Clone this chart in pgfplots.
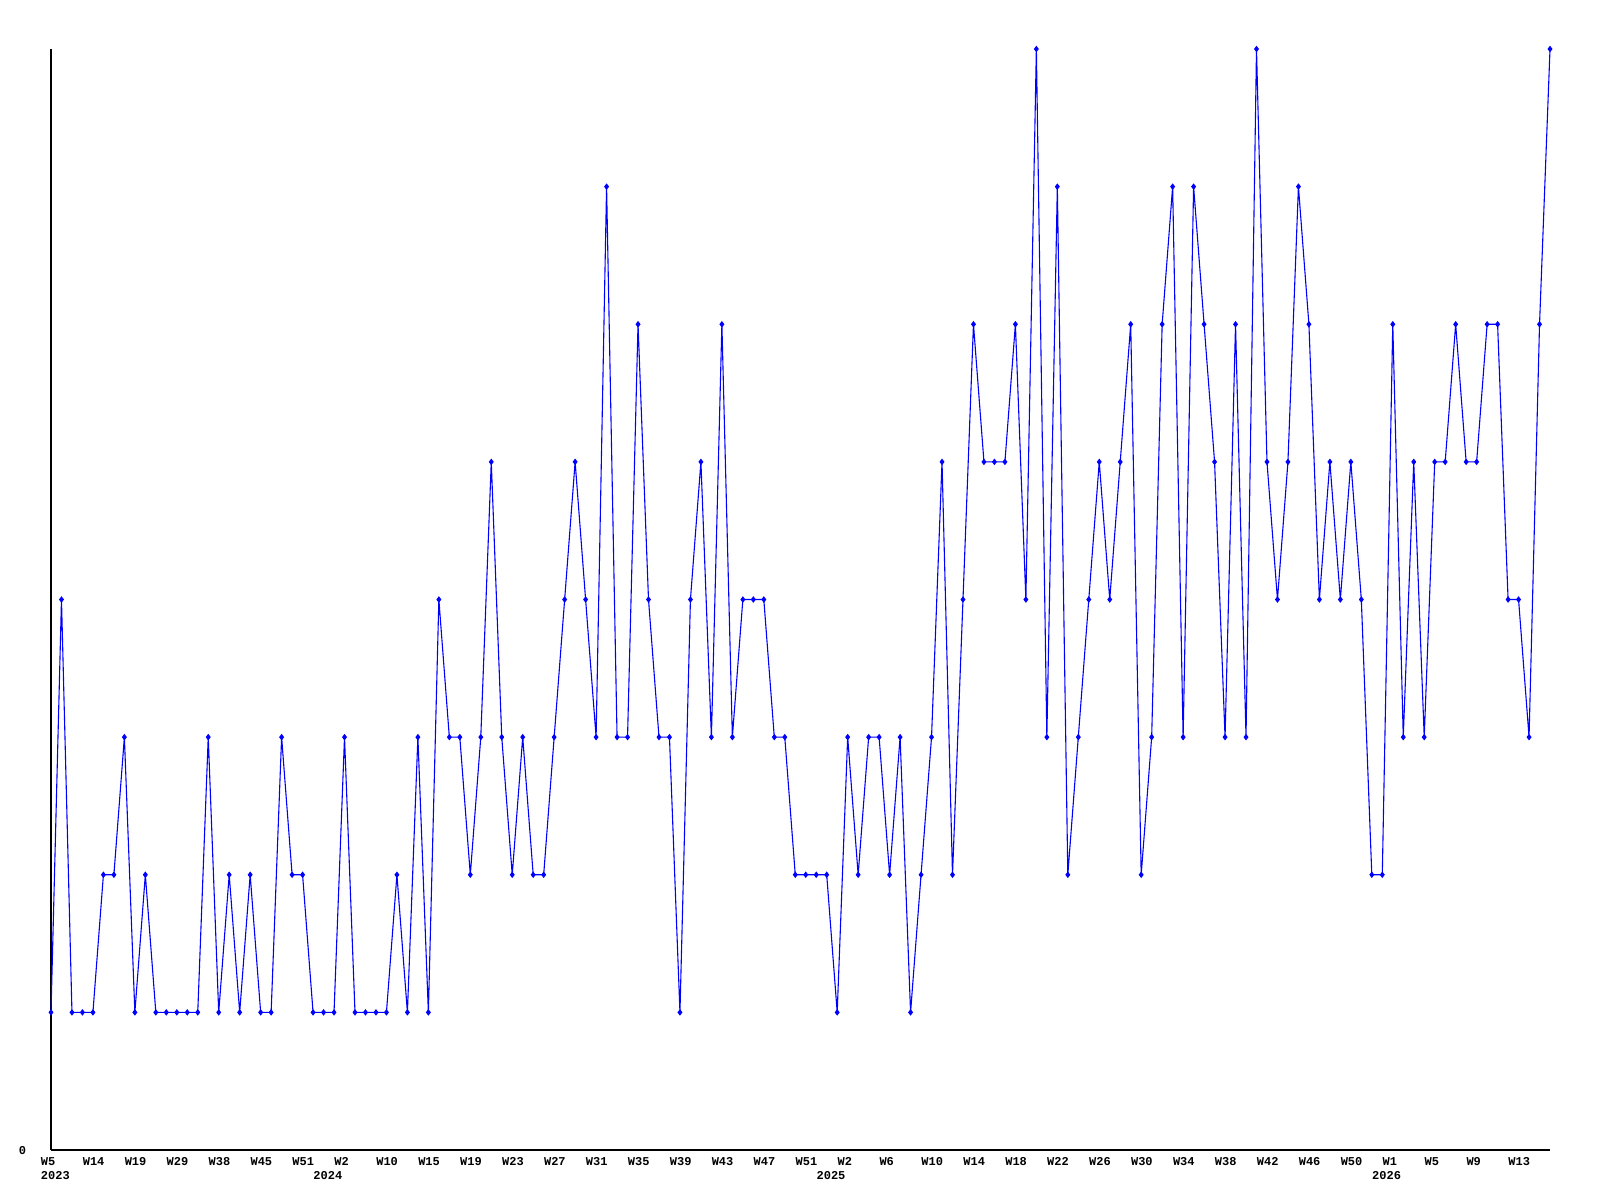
\documentclass[border=0pt]{standalone}
\usepackage{fontspec}
\setmainfont{Liberation Mono}
\usepackage{pgfplots}
\pgfplotsset{compat=1.18}
\usepackage{pgfplotstable}

% weekly counts, one row per week (index = row number)
\pgfplotstableread{
v
1
4
1
1
1
2
2
3
1
2
1
1
1
1
1
3
1
2
1
2
1
1
3
2
2
1
1
1
3
1
1
1
1
2
1
3
1
4
3
3
2
3
5
3
2
3
2
2
3
4
5
4
3
7
3
3
6
4
3
3
1
4
5
3
6
3
4
4
4
3
3
2
2
2
2
1
3
2
3
3
2
3
1
2
3
5
2
4
6
5
5
5
6
4
8
3
7
2
3
4
5
4
5
6
2
3
6
7
3
7
6
5
3
6
3
8
5
4
5
7
6
4
5
4
5
4
2
2
6
3
5
3
5
5
6
5
5
6
6
4
4
3
6
8
}\weekly

\definecolor{lineblue}{RGB}{0,0,255}
\tikzset{yearlabel/.style={anchor=north west, inner sep=0pt, xshift=-5.25pt, yshift=-10.7pt,
                           font=\fontsize{6}{7}\selectfont\bfseries}}

\begin{document}
\begin{tikzpicture}
  \begin{axis}[
    width=749.5pt, height=550.5pt,
    scale only axis,
    xmin=0, xmax=143,
    ymin=0, ymax=8,
    axis lines=left,
    axis line style={-, black, line width=0.6pt},
    major tick length=0pt,
    clip=false,
    font=\fontsize{6}{7}\selectfont\bfseries,
    ytick={0},
    yticklabels={0},
    yticklabel style={anchor=east, inner sep=0pt, xshift=-12.2pt, yshift=-0.5pt},
    xtick={0,4,...,140},
    xticklabels={W5,W14,W19,W29,W38,W45,W51,W2,W10,W15,W19,W23,W27,W31,W35,W39,W43,W47,W51,W2,W6,W10,W14,W18,W22,W26,W30,W34,W38,W42,W46,W50,W1,W5,W9,W13},
    xticklabel style={anchor=north west, inner sep=0pt, xshift=-5.25pt, yshift=-3.7pt},
  ]
    \addplot[color=lineblue, line width=0.55pt, mark=diamond*, mark size=1.2pt]
      table[x expr=\coordindex, y=v] {\weekly};

    \node[yearlabel] at (axis cs:0,0) {2023};
    \node[yearlabel] at (axis cs:26,0) {2024};
    \node[yearlabel] at (axis cs:74,0) {2025};
    \node[yearlabel] at (axis cs:127,0) {2026};
  \end{axis}
  \path (-25.5pt,-25pt) rectangle (774.5pt,575pt);
\end{tikzpicture}
\end{document}
